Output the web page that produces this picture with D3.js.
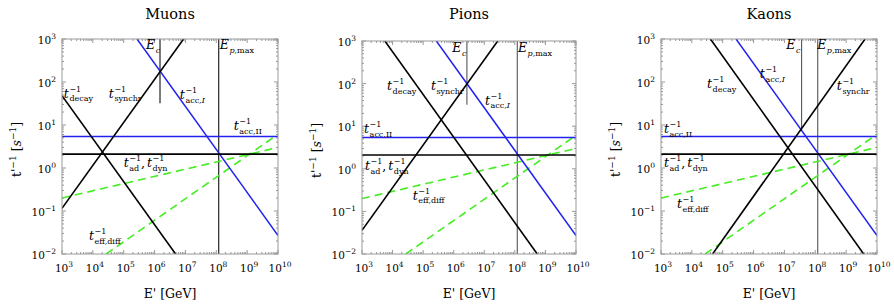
<!DOCTYPE html>
<meta charset="utf-8">
<style>
body { margin: 0; background: #fff; }
svg { font-family: "DejaVu Serif", "Liberation Serif", "Times New Roman", serif; }
text { fill: #000; }
.title { font-size: 14.5px; }
.axlab { font-size: 12.5px; }
.tick { font-size: 10.5px; }
.lab { font-size: 12.5px; }
.small { font-size: 8px; }
.frame { fill: none; stroke: #999; stroke-width: 1; }
.tk { stroke: #999; stroke-width: 1; }
.line { fill: none; stroke-width: 1.6px; }
</style>
<svg width="894" height="308"></svg>
<script src="https://cdn.jsdelivr.net/npm/d3@7"></script>
<script>

var svg = d3.select("svg");

// axis ticks
var eTicks = [1e3, 1e4, 1e5, 1e6, 1e7, 1e8, 1e9, 1e10];
var rTicks = [1e-2, 1e-1, 1e0, 1e1, 1e2, 1e3];

// rates shared by all panels  [E' (GeV), t'^-1 (1/s)]
var accII = [[1e3, 5.4], [1e10, 5.4]];
var adDyn = [[1e3, 2.1], [1e10, 2.1]];
var accI = [[2.7e5, 1e3], [1e10, 0.027]];
var diffLow = [[1e3, 0.2], [1e10, 3.0]];
var diffHigh = [[2.7e4, 0.01], [1e10, 6.1]];
var epMax = 1.2e8;

// muons
var muonDecay = [[1e3, 48], [4.8e6, 0.01]];
var muonSynchr = [[1e3, 0.115], [8.7e6, 1e3]];
var muonEc = [[1.5e6, 1e3], [1.5e6, 32]];

// pions
var pionDecay = [[5.6e3, 1e3], [5.4e8, 0.01]];
var pionSynchr = [[1e3, 0.036], [2.75e7, 1e3]];
var pionEc = [[2.7e6, 1e3], [2.7e6, 32]];

// kaons
var kaonDecay = [[4e4, 1e3], [3.7e9, 0.01]];
var kaonSynchr = [[4.7e4, 0.01], [4.1e9, 1e3]];
var kaonEc = [[3.6e7, 1e3], [3.6e7, 7.7]];

var panels = [
  {name: "Muons", x0: 62, x1: 278, y0: 39, y1: 254, decay: muonDecay, synchr: muonSynchr, ec: muonEc, vcol: "#111",
   labels: {decay: [1.15e3, 43], synchr: [3.3e4, 43], accI: [6.6e6, 40], accII: [3.7e8, 7.6],
            ec: [5.3e5, 585], ep: [1.3e8, 585], ad: [1e5, 1.05], diff: [7.5e3, 0.021]}},
  {name: "Pions", x0: 362, x1: 576, y0: 41, y1: 254, decay: pionDecay, synchr: pionSynchr, ec: pionEc, vcol: "#555",
   labels: {decay: [6.6e3, 70], synchr: [1.8e5, 70], accI: [1.05e7, 32], accII: [1.17e3, 6.9],
            ec: [9e5, 550], ep: [1.26e8, 550], ad: [1.25e3, 0.93], diff: [4.6e4, 0.19]}},
  {name: "Kaons", x0: 661, x1: 877, y0: 39, y1: 254, decay: kaonDecay, synchr: kaonSynchr, ec: kaonEc, vcol: "#555",
   labels: {decay: [3.1e4, 72], synchr: [5e8, 65], accI: [1.6e6, 123], accII: [1.25e3, 6.5],
            ec: [1.15e7, 585], ep: [1.15e8, 585], ad: [1.25e3, 1.05], diff: [3.3e3, 0.117]}}
];

// italic base with stacked super/subscript; sub is a list of [text, italic]
function mathLabel(g, x, y, base, sup, sub) {
  var b = g.append("text").attr("class", "lab").attr("x", x).attr("y", y)
      .style("font-style", "italic").text(base);
  var xs = x + b.node().getComputedTextLength() + 0.5;
  var w = 0;
  if (sup) {
    var s = g.append("text").attr("class", "small").attr("x", xs).attr("y", y - 6).text(sup);
    w = Math.max(w, s.node().getComputedTextLength());
  }
  if (sub) {
    var t = g.append("text").attr("class", "small").attr("x", xs).attr("y", y + 3.5);
    sub.forEach(function(p) {
      t.append("tspan").style("font-style", p[1] ? "italic" : "normal").text(p[0]);
    });
    w = Math.max(w, t.node().getComputedTextLength());
  }
  return xs + w;
}

function pow10(sel, v) {
  var e = Math.round(Math.log10(v));
  sel.append("tspan").text("10");
  sel.append("tspan").attr("dy", -5).style("font-size", "7.5px").text(String(e).replace("-", "\u2212"));
}

panels.forEach(function(p, i) {
  var x = d3.scaleLog().domain([1e3, 1e10]).range([p.x0, p.x1]),
      y = d3.scaleLog().domain([1e-2, 1e3]).range([p.y1, p.y0]);
  var g = svg.append("g");
  var cx = (p.x0 + p.x1) / 2;

  g.append("text").attr("class", "title").attr("x", cx).attr("y", 19)
      .attr("text-anchor", "middle").text(p.name);

  // minor + major ticks on all four sides
  var minorE = [], minorR = [];
  eTicks.slice(0, -1).forEach(function(t) { for (var k = 2; k < 10; k++) minorE.push(t * k); });
  rTicks.slice(0, -1).forEach(function(t) { for (var k = 2; k < 10; k++) minorR.push(t * k); });

  minorE.concat(eTicks).forEach(function(t) {
    var len = eTicks.indexOf(t) >= 0 ? 4 : 2;
    g.append("line").attr("class", "tk").attr("x1", x(t)).attr("x2", x(t)).attr("y1", p.y1).attr("y2", p.y1 - len);
    g.append("line").attr("class", "tk").attr("x1", x(t)).attr("x2", x(t)).attr("y1", p.y0).attr("y2", p.y0 + len);
  });
  minorR.concat(rTicks).forEach(function(t) {
    var len = rTicks.indexOf(t) >= 0 ? 4 : 2;
    g.append("line").attr("class", "tk").attr("y1", y(t)).attr("y2", y(t)).attr("x1", p.x0).attr("x2", p.x0 + len);
    g.append("line").attr("class", "tk").attr("y1", y(t)).attr("y2", y(t)).attr("x1", p.x1).attr("x2", p.x1 - len);
  });

  eTicks.forEach(function(t) {
    var tx = g.append("text").attr("class", "tick").attr("x", x(t) + 2).attr("y", p.y1 + 18)
        .attr("text-anchor", "middle");
    pow10(tx, t);
  });
  rTicks.forEach(function(t) {
    var ty = g.append("text").attr("class", "tick").attr("x", p.x0 - 6).attr("y", y(t) + 5)
        .attr("text-anchor", "end");
    pow10(ty, t);
  });

  g.append("text").attr("class", "axlab").attr("x", cx).attr("y", 298)
      .attr("text-anchor", "middle").text("E' [GeV]");

  var yl = g.append("text").attr("class", "axlab")
      .attr("transform", "translate(" + (p.x0 - 41) + "," + ((p.y0 + p.y1) / 2 + 3) + ") rotate(-90)")
      .attr("text-anchor", "middle");
  yl.append("tspan").text("t'");
  yl.append("tspan").attr("dy", -5).style("font-size", "9px").text("\u22121");
  yl.append("tspan").attr("dy", 5).text("  [");
  yl.append("tspan").style("font-style", "italic").text("s");
  yl.append("tspan").attr("dy", -5).style("font-size", "9px").text("\u22121");
  yl.append("tspan").attr("dy", 5).text("]");

  var clipId = "clip" + i;
  g.append("clipPath").attr("id", clipId).append("rect")
      .attr("x", p.x0).attr("y", p.y0).attr("width", p.x1 - p.x0).attr("height", p.y1 - p.y0);

  var line = d3.line().x(function(d) { return x(d[0]); }).y(function(d) { return y(d[1]); });
  var plot = g.append("g").attr("clip-path", "url(#" + clipId + ")");

  var series = [
    {d: p.ec, c: p.vcol, w: 1.1},
    {d: [[epMax, 1e3], [epMax, 1e-2]], c: p.vcol, w: 1.1},
    {d: diffLow, c: "#44ee22", w: 1.6, dash: "8,5"},
    {d: diffHigh, c: "#44ee22", w: 1.6, dash: "8,5"},
    {d: accII, c: "#2222ee", w: 1.5},
    {d: accI, c: "#2222ee", w: 1.5},
    {d: adDyn, c: "#000", w: 1.6},
    {d: p.decay, c: "#000", w: 1.6},
    {d: p.synchr, c: "#000", w: 1.6}
  ];
  series.forEach(function(s) {
    plot.append("path").attr("class", "line").attr("d", line(s.d))
        .style("stroke", s.c).style("stroke-width", s.w)
        .style("stroke-dasharray", s.dash || null);
  });

  g.append("rect").attr("class", "frame")
      .attr("x", p.x0).attr("y", p.y0).attr("width", p.x1 - p.x0).attr("height", p.y1 - p.y0);

  var L = p.labels;
  function at(k) { return [x(L[k][0]), y(L[k][1])]; }
  var q;
  q = at("decay"); mathLabel(g, q[0], q[1], "t", "\u22121", [["decay", false]]);
  q = at("synchr"); mathLabel(g, q[0], q[1], "t", "\u22121", [["synchr", false]]);
  q = at("accI"); mathLabel(g, q[0], q[1], "t", "\u22121", [["acc,", false], ["I", true]]);
  q = at("accII"); mathLabel(g, q[0], q[1], "t", "\u22121", [["acc,II", false]]);
  q = at("ec"); mathLabel(g, q[0], q[1], "E", null, [["c", true]]);
  q = at("ep"); mathLabel(g, q[0], q[1], "E", null, [["p", true], [",max", false]]);
  q = at("diff"); mathLabel(g, q[0], q[1], "t", "\u22121", [["eff,diff", false]]);
  q = at("ad");
  var xe = mathLabel(g, q[0], q[1], "t", "\u22121", [["ad", false]]);
  g.append("text").attr("class", "lab").attr("x", xe).attr("y", q[1]).text(",");
  mathLabel(g, xe + 6, q[1], "t", "\u22121", [["dyn", false]]);
});

</script>
